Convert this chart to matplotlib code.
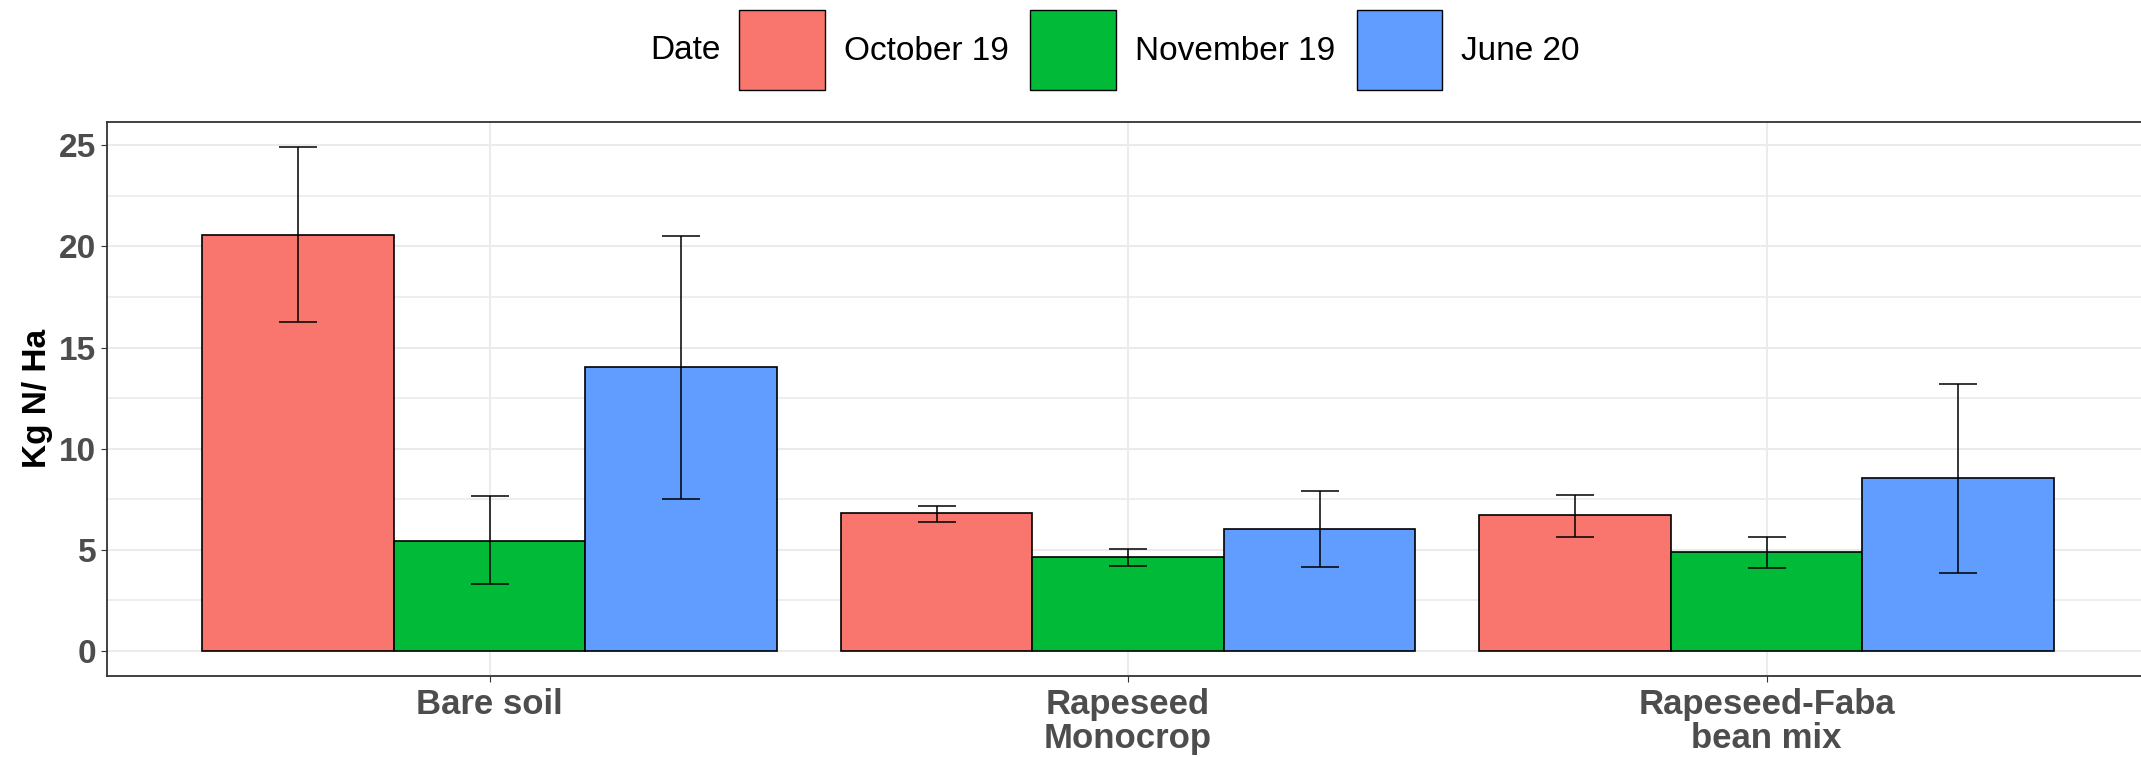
import matplotlib
matplotlib.use("Agg")
import matplotlib.pyplot as plt
from matplotlib.patches import Patch
import numpy as np

plt.rcParams['font.family'] = ['Liberation Sans', 'DejaVu Sans']

# data
groups = ['Bare soil', 'Rapeseed\nMonocrop', 'Rapeseed-Faba\nbean mix']
dates = ['October 19', 'November 19', 'June 20']
colors = ['#F8766D', '#00BA38', '#619CFF']

oct19 = [20.58, 6.80, 6.71]
oct19_lo = [16.25, 6.37, 5.65]
oct19_hi = [24.93, 7.14, 7.68]

nov19 = [5.45, 4.63, 4.89]
nov19_lo = [3.29, 4.20, 4.11]
nov19_hi = [7.64, 5.04, 5.65]

jun20 = [14.02, 6.03, 8.53]
jun20_lo = [7.50, 4.12, 3.83]
jun20_hi = [20.53, 7.91, 13.19]

means = [oct19, nov19, jun20]
lows = [oct19_lo, nov19_lo, jun20_lo]
highs = [oct19_hi, nov19_hi, jun20_hi]

W, H, DPI = 2141, 757, 100
fig = plt.figure(figsize=(W / DPI, H / DPI), dpi=DPI)

left_px, right_px = 106.5, 2149.7
top_px, bot_px = 121.5, 676.0
ax = fig.add_axes([left_px / W, 1 - bot_px / H,
                   (right_px - left_px) / W, (bot_px - top_px) / H])

x = np.arange(1, len(groups) + 1)
bw = 0.3
for i, (m, lo, hi) in enumerate(zip(means, lows, highs)):
    m = np.array(m)
    xs = x + (i - 1) * bw
    ax.bar(xs, m, width=bw, color=colors[i], edgecolor='black',
           linewidth=1.2, zorder=2)
    yerr = [m - np.array(lo), np.array(hi) - m]
    ax.errorbar(xs, m, yerr=yerr, fmt='none', ecolor='black',
                elinewidth=1.1, capsize=14, capthick=1.1, zorder=3)

ax.set_xlim(0.4, 3.6)
ax.set_ylim(-1.25, 26.18)
ax.set_xticks(x)
ax.set_xticklabels(groups, fontsize=25, fontweight='bold', color='#4D4D4D',
                   linespacing=1.05)
ax.set_yticks([0, 5, 10, 15, 20, 25])
ax.set_yticks([2.5, 7.5, 12.5, 17.5, 22.5], minor=True)
ax.tick_params(axis='y', which='major', labelsize=24, labelcolor='#4D4D4D',
               length=4.5, width=0.8, color='#333333', pad=3)
ax.tick_params(axis='y', which='minor', length=0)
ax.tick_params(axis='x', length=4.5, width=0.8, color='#333333', pad=4)
for lab in ax.get_yticklabels():
    lab.set_fontweight('bold')

ax.grid(True, which='major', color='#EBEBEB', linewidth=1.5, zorder=0)
ax.grid(True, which='minor', axis='y', color='#EBEBEB', linewidth=1.2, zorder=0)
ax.set_axisbelow(True)
for s in ax.spines.values():
    s.set_color('#333333')
    s.set_linewidth(1.3)

ax.set_ylabel('Kg N/ Ha', fontsize=24, fontweight='bold', labelpad=4)

handles = [Patch(facecolor=c, edgecolor='black', linewidth=1.0) for c in colors]
fig.legend(handles, dates, loc='center left',
           bbox_to_anchor=(739 / W, 1 - 50 / H), ncol=3, frameon=False,
           fontsize=24, handlelength=2.57, handleheight=3.3,
           handletextpad=0.57, columnspacing=0.65, borderpad=0,
           borderaxespad=0)
fig.text(721 / W, 1 - 47 / H, 'Date', fontsize=24, ha='right',
         va='center_baseline')

fig.savefig('out.png', dpi=DPI)
